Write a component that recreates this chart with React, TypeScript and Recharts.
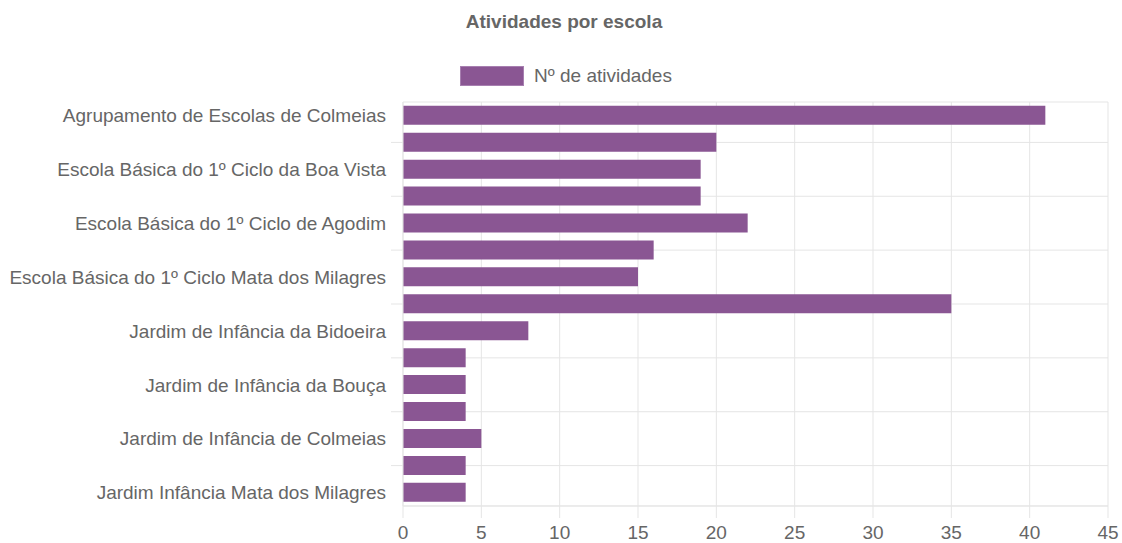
import React from "react";
import {
  BarChart,
  Bar,
  XAxis,
  YAxis,
  CartesianGrid,
  Legend,
} from "recharts";

const chartTitle = "Atividades por escola";
const seriesName = "Nº de atividades";

const schools = [
  "Agrupamento de Escolas de Colmeias",
  "Escola Básica do 1º Ciclo da Bidoeira",
  "Escola Básica do 1º Ciclo da Boa Vista",
  "Escola Básica do 1º Ciclo da Bouça",
  "Escola Básica do 1º Ciclo de Agodim",
  "Escola Básica do 1º Ciclo de Colmeias",
  "Escola Básica do 1º Ciclo Mata dos Milagres",
  "Escola Básica e Secundária de Colmeias",
  "Jardim de Infância da Bidoeira",
  "Jardim de Infância da Boa Vista",
  "Jardim de Infância da Bouça",
  "Jardim de Infância de Agodim",
  "Jardim de Infância de Colmeias",
  "Jardim de Infância do Souto",
  "Jardim Infância Mata dos Milagres",
];

const activities = [41, 20, 19, 19, 22, 16, 15, 35, 8, 4, 4, 4, 5, 4, 4];

const xTicks = [0, 5, 10, 15, 20, 25, 30, 35, 40, 45];

const data = schools.map((name, i) => ({ name, value: activities[i] }));
const gridTicks = schools.filter((_, i) => i % 2 === 1);

const FONT = '"Liberation Sans", Arial, Helvetica, sans-serif';
const TEXT = "#666666";
const GRID = "#e5e5e5";
const BAR = "#8a5693";

const LegendContent = () => (
  <div
    style={{
      display: "flex",
      justifyContent: "center",
      alignItems: "center",
      height: 20,
      fontFamily: FONT,
      fontSize: 19,
      color: TEXT,
      paddingLeft: 4,
    }}
  >
    <span
      style={{
        display: "inline-block",
        width: 64,
        height: 20,
        background: BAR,
        marginRight: 10,
        boxSizing: "border-box",
        border: "1px solid #a77fb0",
      }}
    />
    <span>{seriesName}</span>
  </div>
);

export default function App() {
  return (
    <div
      style={{
        position: "absolute",
        left: 0,
        top: 0,
        width: 1122,
        height: 543,
        background: "#ffffff",
        fontFamily: FONT,
      }}
    >
      <div
        style={{
          position: "absolute",
          left: 0,
          top: 10,
          width: 1128,
          textAlign: "center",
          fontSize: 19,
          fontWeight: "bold",
          color: TEXT,
          lineHeight: "24px",
        }}
      >
        {chartTitle}
      </div>
      <BarChart
        width={1122}
        height={543}
        data={data}
        layout="vertical"
        margin={{ top: 82, right: 14, bottom: 7, left: 0 }}
        barCategoryGap="14%"
      >
        <CartesianGrid
          yAxisId="g"
          stroke={GRID}
          strokeWidth={1}
          horizontalPoints={undefined}
        />
        <Legend
          verticalAlign="top"
          align="center"
          content={<LegendContent />}
          wrapperStyle={{ top: 66, left: 0, width: 1128, height: 20 }}
        />
        <XAxis
          type="number"
          domain={[0, 45]}
          ticks={xTicks}
          interval={0}
          height={30}
          tickSize={12}
          tickMargin={8}
          tickLine={{ stroke: GRID }}
          axisLine={{ stroke: GRID }}
          tick={{ fill: TEXT, fontSize: 19, fontFamily: FONT }}
        />
        <YAxis
          yAxisId="g"
          type="category"
          dataKey="name"
          ticks={gridTicks}
          interval={0}
          width={12}
          tickSize={12}
          tickLine={{ stroke: GRID }}
          axisLine={{ stroke: GRID }}
          tickFormatter={() => ""}
        />
        <YAxis
          yAxisId="labels"
          type="category"
          dataKey="name"
          interval={1}
          width={391}
          tickSize={0}
          tickMargin={5}
          tickLine={false}
          axisLine={false}
          tick={{ fill: TEXT, fontSize: 19, fontFamily: FONT }}
        />
        <Bar
          yAxisId="labels"
          dataKey="value"
          name={seriesName}
          fill={BAR}
          isAnimationActive={false}
        />
      </BarChart>
    </div>
  );
}
